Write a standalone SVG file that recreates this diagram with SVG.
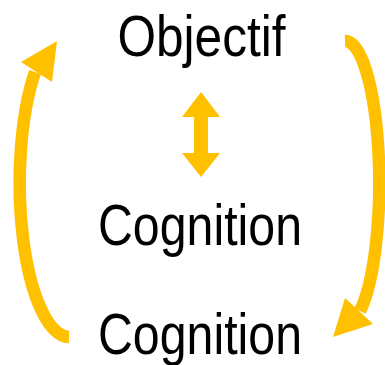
<svg xmlns="http://www.w3.org/2000/svg" width="385" height="365" viewBox="0 0 385 365">
  <style>
    .label { font-family: "Liberation Sans", Arial, sans-serif; font-size: 58px; fill: #000; text-anchor: middle; }
    .arc { fill: none; stroke: #FFC000; stroke-width: 12.5; stroke-linecap: butt; }
    .head { fill: #FFC000; stroke: none; }
  </style>
  <rect width="385" height="365" fill="#fff"/>

  <g id="connectors">
    <!-- left loop: bottom Cognition back up to Objectif -->
    <path class="arc" d="M69,337 A50,154 0 0 1 35,72"/>
    <polygon class="head" points="57,41 21,62 52,82"/>
    <!-- right loop: Objectif down to bottom Cognition -->
    <path class="arc" d="M345,41 A34,142 0 0 1 360,311"/>
    <polygon class="head" points="333,337 345,298 373,324"/>
    <!-- two-way link between Objectif and Cognition -->
    <polygon class="head" points="201,92 220,117 208,117 208,153 220,153 201,177 182,153 194,153 194,117 182,117"/>
  </g>

  <g id="objectif">
    <text class="label" x="201.5" y="56" textLength="168" lengthAdjust="spacingAndGlyphs">Objectif</text>
  </g>
  <g id="cognition-mid">
    <text class="label" x="200" y="245" textLength="204" lengthAdjust="spacingAndGlyphs">Cognition</text>
  </g>
  <g id="cognition-bottom">
    <text class="label" x="200" y="354" textLength="204" lengthAdjust="spacingAndGlyphs">Cognition</text>
  </g>
</svg>
